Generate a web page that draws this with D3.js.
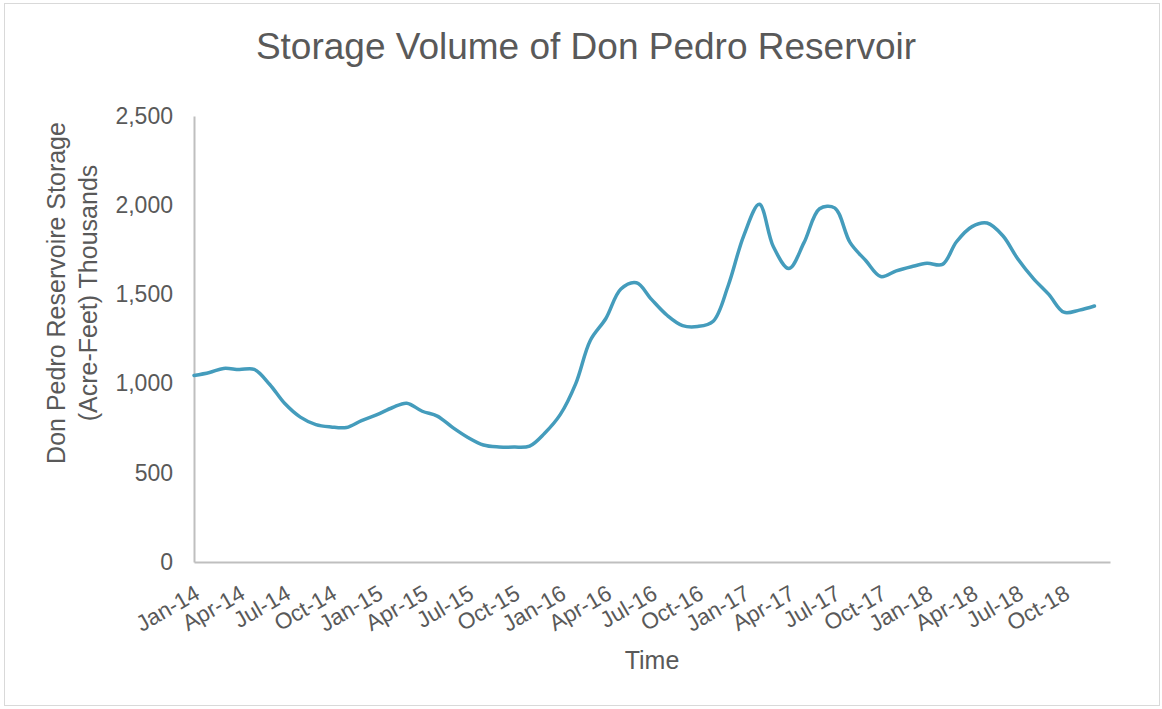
<!DOCTYPE html>
<html>
<head>
<meta charset="utf-8">
<script src="https://cdn.jsdelivr.net/npm/d3@7"></script>
<style>
  body { margin: 0; background: #fff; }
  text { font-family: "Liberation Sans", Arial, sans-serif; fill: #595959; }
</style>
</head>
<body>
<div id="chart"></div>
<script>
// monthly storage, thousand acre-feet, Jan..Dec
var storage2014 = [1045, 1062, 1085, 1079, 1080, 995, 888, 812, 770, 757, 754, 793];
var storage2015 = [826, 866, 890, 845, 818, 753, 698, 656, 645, 644, 650, 722];
var storage2016 = [826, 1000, 1242, 1365, 1530, 1565, 1472, 1383, 1325, 1320, 1350, 1550];
var storage2017 = [1830, 2005, 1767, 1645, 1790, 1980, 1985, 1790, 1690, 1600, 1632, 1655];
var storage2018 = [1674, 1668, 1795, 1880, 1900, 1830, 1700, 1590, 1500, 1400, 1412, 1435];

var years = [2014, 2015, 2016, 2017, 2018];
var tickLabels = ["Jan-14", "Apr-14", "Jul-14", "Oct-14", "Jan-15", "Apr-15", "Jul-15", "Oct-15",
    "Jan-16", "Apr-16", "Jul-16", "Oct-16", "Jan-17", "Apr-17", "Jul-17", "Oct-17",
    "Jan-18", "Apr-18", "Jul-18", "Oct-18"];
var yTicks = [0, 500, 1000, 1500, 2000, 2500];

var w = 1162, h = 709;
var svg = d3.select("#chart").append("svg")
    .attr("width", w)
    .attr("height", h);

// chart border
svg.append("rect")
    .attr("x", 4.5).attr("y", 3.5)
    .attr("width", 1155).attr("height", 702)
    .style("fill", "#fff")
    .style("stroke", "#d9d9d9")
    .style("stroke-width", 1);

// build the series: one point per month
var series = [storage2014, storage2015, storage2016, storage2017, storage2018];
var data = [];
years.forEach(function(yr, i) {
    series[i].forEach(function(v, m) {
        data.push({date: new Date(yr, m, 1), value: v});
    });
});

var x = d3.scaleTime()
    .domain([new Date(2014, 0, 1), new Date(2019, 0, 1)])
    .range([194, 1110]);
var y = d3.scaleLinear()
    .domain([0, 2500])
    .range([562, 116]);

// y axis
var yAxis = svg.append("g")
    .attr("transform", "translate(194,0)")
    .call(d3.axisLeft(y).tickValues(yTicks).tickSize(0).tickPadding(21).tickFormat(d3.format(",")));
yAxis.select(".domain").style("stroke", "#bfbfbf").style("stroke-width", 2);
yAxis.selectAll("text")
    .style("font-size", "23px")
    .style("font-family", "Liberation Sans, Arial, sans-serif")
    .style("fill", "#595959");

// x axis, quarterly labels
var tickDates = tickLabels.map(function(d, i) { return new Date(2014 + Math.floor(i / 4), (i % 4) * 3, 1); });
var xAxis = svg.append("g")
    .attr("transform", "translate(0,562)")
    .call(d3.axisBottom(x).tickValues(tickDates).tickSize(0).tickSizeOuter(0)
        .tickFormat(function(d, i) { return tickLabels[i]; }));
xAxis.select(".domain").style("stroke", "#bfbfbf").style("stroke-width", 2);
xAxis.selectAll("text")
    .attr("x", 0).attr("y", 0).attr("dy", "0.35em")
    .attr("transform", "translate(3,29) rotate(-30)")
    .style("text-anchor", "end")
    .style("font-size", "22.5px")
    .style("font-family", "Liberation Sans, Arial, sans-serif")
    .style("fill", "#595959");

// the line, smoothed like the spreadsheet chart
var line = d3.line()
    .x(function(d) { return x(d.date); })
    .y(function(d) { return y(d.value); })
    .curve(d3.curveCatmullRom.alpha(0.5));

svg.append("path")
    .datum(data)
    .attr("d", line)
    .style("fill", "none")
    .style("stroke", "#449cbc")
    .style("stroke-width", 3.5)
    .style("stroke-linecap", "round")
    .style("stroke-linejoin", "round");

// titles
svg.append("text")
    .attr("x", 586).attr("y", 59)
    .style("text-anchor", "middle")
    .style("font-size", "37px")
    .text("Storage Volume of Don Pedro Reservoir");

svg.append("text")
    .attr("x", 652).attr("y", 669)
    .style("text-anchor", "middle")
    .style("font-size", "25px")
    .text("Time");

var yTitle = svg.append("g")
    .attr("transform", "translate(0,293) rotate(-90)");
yTitle.append("text")
    .attr("x", 0).attr("y", 65)
    .style("text-anchor", "middle")
    .style("font-size", "25px")
    .text("Don Pedro Reservoire Storage");
yTitle.append("text")
    .attr("x", 0).attr("y", 97)
    .style("text-anchor", "middle")
    .style("font-size", "25px")
    .text("(Acre-Feet) Thousands");
</script>
</body>
</html>
